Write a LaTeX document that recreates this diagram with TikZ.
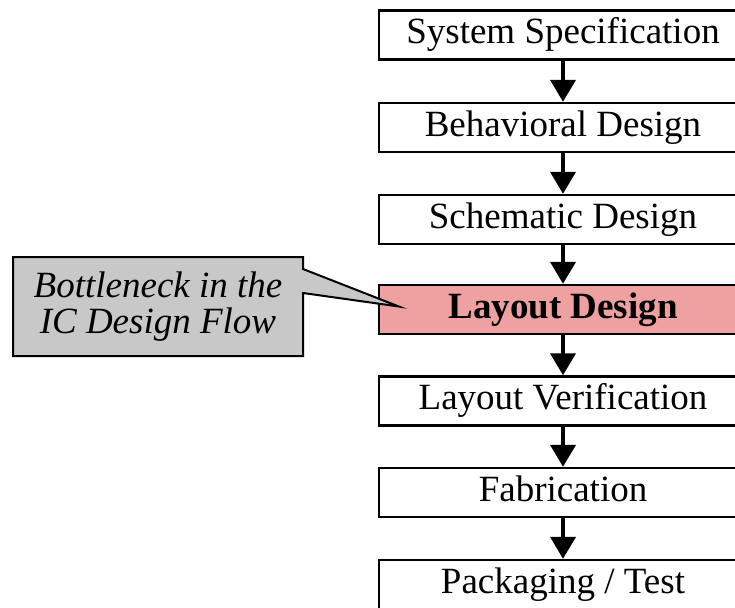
\documentclass[tikz,border=0pt]{standalone}
\usepackage{fontspec}
\setmainfont{Liberation Serif}
\usetikzlibrary{arrows.meta,calc}

\definecolor{stagepink}{RGB}{239,160,160}
\definecolor{notegray}{RGB}{200,200,200}

\tikzset{
  stagebox/.style={draw=black, line width=2.4pt, fill=white,
    minimum width=368pt, minimum height=49pt, inner sep=0pt,
    text height=25pt, text depth=8pt,
    font=\fontsize{37}{37}\selectfont},
  hotbox/.style={stagebox, fill=stagepink, font=\fontsize{37}{37}\selectfont\bfseries},
  flowarrow/.style={line width=4pt, -{Triangle[width=25pt,length=22pt]}},
  noteshape/.style={draw=black, line width=2pt, fill=notegray, line join=miter},
  notetext/.style={align=center, inner sep=0pt,
    font=\fontsize{37}{36}\selectfont\itshape}
}

\begin{document}
\begin{tikzpicture}[x=1pt,y=-1pt]
  \useasboundingbox (0,0) rectangle (735,607);
  \clip (0,0) rectangle (735,607);

  % design flow stages
  \node[stagebox] (spec)   at (563,35)    {System Specification};
  \node[stagebox] (behav)  at (563,127.5) {Behavioral Design};
  \node[stagebox] (schem)  at (563,219.5) {Schematic Design};
  \node[hotbox]   (layout) at (563,309.5) {Layout Design};
  \node[stagebox] (verif)  at (563,401)   {Layout Verification};
  \node[stagebox] (fab)    at (563,492.5) {Fabrication};
  \node[stagebox] (pack)   at (563,584.5) {Packaging / Test};

  % arrows between stages
  \draw[flowarrow] (spec)   -- (behav);
  \draw[flowarrow] (behav)  -- (schem);
  \draw[flowarrow] (schem)  -- (layout);
  \draw[flowarrow] (layout) -- (verif);
  \draw[flowarrow] (verif)  -- (fab);
  \draw[flowarrow] (fab)    -- (pack);

  % callout pointing into the layout stage
  \coordinate (cnw) at (13,257);
  \coordinate (cse) at (303,356);
  \coordinate (tip) at ($(layout.west)+(21,-3)$);
  \path[noteshape] (cnw) -- (cnw -| cse)
    -- ($(cnw -| cse)+(0,12)$) -- (tip) -- ($(cnw -| cse)+(0,36)$)
    -- (cse) -- (cse -| cnw) -- cycle;
  \node[notetext] (note) at ($(cnw)!0.5!(cse)$) {Bottleneck in the\\IC Design Flow};
\end{tikzpicture}
\end{document}
